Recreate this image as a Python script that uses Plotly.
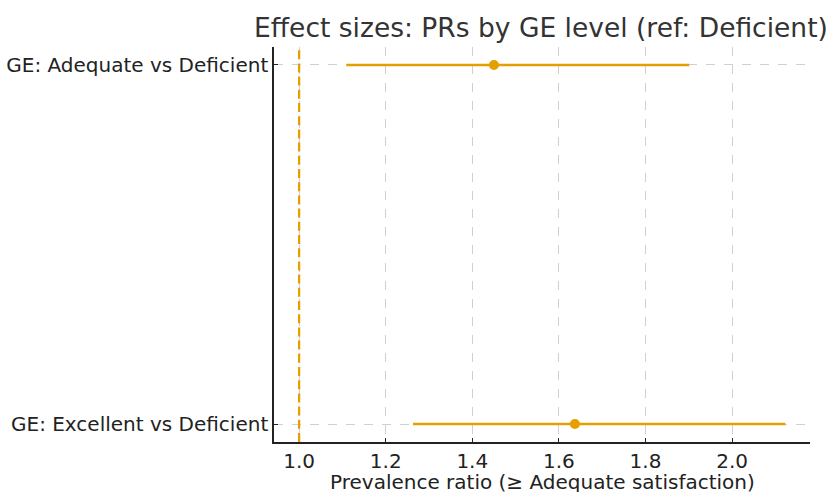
import plotly.graph_objects as go

categories = ["GE: Adequate vs Deficient", "GE: Excellent vs Deficient"]
pr = [1.45, 1.637]
ci_low = [1.109, 1.263]
ci_high = [1.901, 2.123]
ref_value = 1.0
x_ticks = [1.0, 1.2, 1.4, 1.6, 1.8, 2.0]
x_title = "Prevalence ratio (≥ Adequate satisfaction)"

color = "#E69F00"
font = "DejaVu Sans, Verdana, sans-serif"

H = 492
T, B = 47, 50
plot_h = H - T - B

fig = go.Figure()
fig.add_trace(go.Scatter(
    x=pr, y=categories, mode="markers",
    marker=dict(color=color, size=10),
    error_x=dict(type="data", symmetric=False,
                 array=[h - p for h, p in zip(ci_high, pr)],
                 arrayminus=[p - l for p, l in zip(pr, ci_low)],
                 color=color, thickness=2.6, width=0),
    showlegend=False,
    hoverinfo="skip",
))
fig.add_shape(type="line", xref="x", yref="paper", x0=ref_value, x1=ref_value,
              y0=0, y1=1, line=dict(color=color, width=2.3, dash="9px,4.2px"))
fig.add_annotation(text=x_title, xref="paper", yref="paper", x=0.5,
                   y=-(482 - (H - B)) / plot_h, yanchor="middle",
                   showarrow=False, font=dict(size=20, color="#222"))

fig.update_layout(
    width=830, height=H,
    margin=dict(l=274, r=20, t=T, b=B, autoexpand=False),
    paper_bgcolor="white", plot_bgcolor="white",
    font=dict(family=font, size=20, color="#222"),
    title=dict(text="Effect sizes: PRs by GE level (ref: Deficient)",
               x=541 / 830, xanchor="center",
               y=1 - 28 / H, yanchor="middle", yref="container",
               font=dict(size=26.5, color="#333")),
    xaxis=dict(range=[0.942, 2.18], tickvals=x_ticks,
               ticktext=[f"{v:.1f}" for v in x_ticks],
               showgrid=True, gridcolor="#d0d0d0", griddash="dash", gridwidth=0.8,
               showline=True, linecolor="#222", linewidth=1.5,
               ticks="inside", ticklen=4, tickcolor="#222",
               zeroline=False, automargin=False),
    yaxis=dict(type="category", categoryorder="array",
               categoryarray=categories[::-1], range=[-0.05, 1.05],
               showgrid=True, gridcolor="#d0d0d0", griddash="dash", gridwidth=0.8,
               showline=True, linecolor="#222", linewidth=1.5,
               ticks="inside", ticklen=4, tickcolor="#222",
               zeroline=False, automargin=False),
)

fig.write_html("out.html", config={"displayModeBar": False},
               post_script="document.body.style.margin='0';")
